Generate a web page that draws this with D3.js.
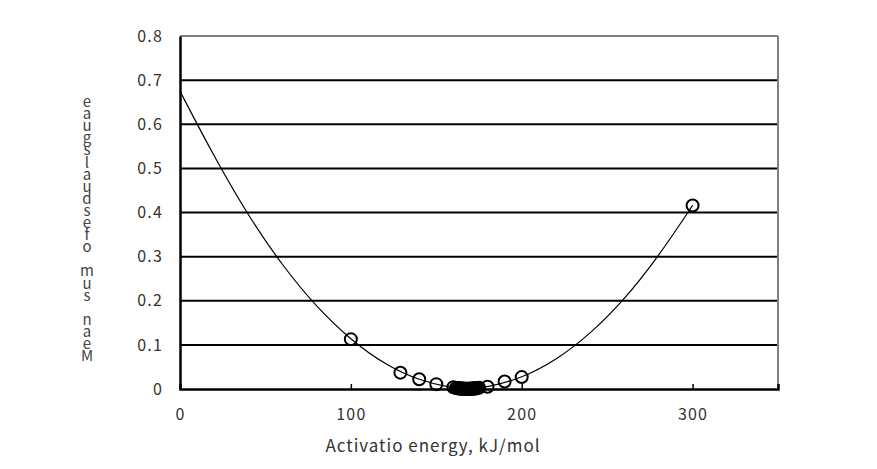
<!DOCTYPE html>
<html><head><meta charset="utf-8">
<script src="https://cdn.jsdelivr.net/npm/d3@7"></script>
<style>body{margin:0;background:#fff;} text{font-family:"Noto Sans CJK KR","DejaVu Sans",sans-serif;}</style>
</head><body>
<svg id="c" width="877" height="469"></svg>
<script>
// Data
const pointX = [100,129,140,150,160,161.5,162,162.5,163,163.5,164,164.5,165,165.5,166,166.5,167,167.5,168,168.5,169,169.5,170,170.5,171,171.5,172,172.5,173,173.5,174,175,180,190,200,300];
const pointY = [0.113,0.037,0.022,0.011,0.004,0.002,0.002,0.002,0.001,0.001,0.001,0.001,0.001,0.001,0.0005,0.0005,0.0005,0.0005,0.0005,0.0005,0.0005,0.0005,0.0005,0.001,0.001,0.001,0.001,0.001,0.001,0.002,0.002,0.003,0.005,0.017,0.027,0.416];
const curveX = [0,20,40,60,80,100,120,140,160,168,180,200,220,240,260,280,300];
const curveY = [0.675,0.526,0.392,0.279,0.185,0.111,0.055,0.019,0.0015,0,0.0034,0.0245,0.065,0.124,0.202,0.300,0.416];
const xTicks = [0,100,200,300];
const yTicks = [0,0.1,0.2,0.3,0.4,0.5,0.6,0.7,0.8];
const yLabelChars = ["e","a","u","g","s","l","a","u","d","s","e","f","o"," ","m","u","s"," ","n","a","e","M"];
const xTitle = "Activatio energy, kJ/mol";

const svg = d3.select("#c");
const L=180, R=778, T=36, B=389;
const x = d3.scaleLinear().domain([0,350]).range([L,R]);
const y = d3.scaleLinear().domain([0,0.8]).range([B,T]);

// gridlines
svg.append("g").selectAll("line").data(yTicks.filter(v=>v>0 && v<0.8)).join("line")
  .attr("x1",L).attr("x2",R).attr("y1",d=>y(d)).attr("y2",d=>y(d))
  .attr("stroke","#000").attr("stroke-width",2);
// top & right border (gray)
svg.append("line").attr("x1",L).attr("x2",R).attr("y1",T).attr("y2",T).attr("stroke","#808080").attr("stroke-width",2);
svg.append("line").attr("x1",R).attr("x2",R).attr("y1",T).attr("y2",B).attr("stroke","#808080").attr("stroke-width",2);

// axes
const yAxis = d3.axisLeft(y).tickValues(yTicks).tickSize(0).tickPadding(17)
  .tickFormat(d=>d===0?"0":d3.format(".1f")(d));
const gy = svg.append("g").attr("transform",`translate(${L},0)`).call(yAxis);
gy.select(".domain").attr("stroke","#000").attr("stroke-width",2.5);
gy.selectAll("text").attr("font-size",16).attr("fill","#333").attr("letter-spacing",1.2);

const xAxis = d3.axisBottom(x).tickValues(xTicks).tickSize(-5).tickPadding(20).tickFormat(d3.format("d"));
const gx = svg.append("g").attr("transform",`translate(0,${B})`).call(xAxis);
gx.select(".domain").attr("stroke","#000").attr("stroke-width",2.5);
gx.selectAll(".tick line").attr("stroke","#000").attr("stroke-width",1.5);
gx.selectAll(".tick").filter(d=>d===0).select("line").remove();
gx.selectAll("text").attr("font-size",16).attr("fill","#333").attr("letter-spacing",1.2);

// curve
const line = d3.line().x((d,i)=>x(curveX[i])).y((d,i)=>y(curveY[i])).curve(d3.curveBasis);
svg.append("path").datum(curveX).attr("d",line).attr("fill","none").attr("stroke","#000").attr("stroke-width",1.2);

// points
svg.append("g").selectAll("circle").data(pointX).join("circle")
  .attr("cx",(d)=>x(d)).attr("cy",(d,i)=>y(pointY[i])).attr("r",6)
  .attr("fill","none").attr("stroke","#000").attr("stroke-width",2);

// x title
svg.append("text").attr("x",433).attr("y",452).attr("text-anchor","middle")
  .attr("font-size",17).attr("letter-spacing",1).attr("fill","#333").text(xTitle);

// y label (stacked chars)
svg.append("g").selectAll("text").data(yLabelChars).join("text")
  .attr("x",87).attr("y",(d,i)=>107+i*12.1).attr("text-anchor","middle")
  .attr("font-size",15).attr("fill","#444").text(d=>d);
</script>
</body></html>
